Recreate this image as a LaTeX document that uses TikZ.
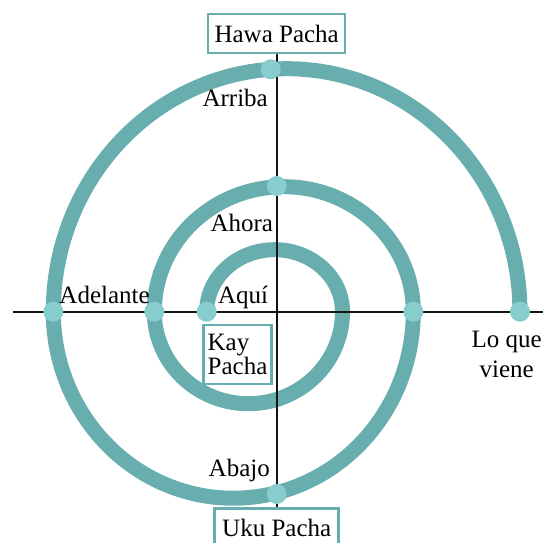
\documentclass[tikz,border=0pt]{standalone}
\usepackage{fontspec}
\setmainfont{Liberation Serif}
\usetikzlibrary{positioning}
\definecolor{spiralc}{RGB}{104,174,174}
\definecolor{dotc}{RGB}{136,205,205}
\definecolor{ink}{RGB}{20,20,20}

\begin{document}
\begin{tikzpicture}[
  x=1pt, y=1pt,
  font=\fontsize{25}{28}\selectfont,
  spiral/.style={draw=spiralc, line width=15pt},
  axis/.style={draw=ink, line width=2pt},
  dot/.style={circle, fill=dotc, minimum size=20pt, inner sep=0pt},
  pacha/.style={draw=spiralc, line width=2.5pt, fill=white, inner sep=0pt, align=left},
  lab/.style={inner sep=0pt},
]
\useasboundingbox (-276.7,-230.3) rectangle (266.3,311.7);

% ---- the spiral (half-ellipses, inside out) ----
\draw[spiral] (-70,0)
  arc[start angle=180, end angle=0, x radius=67.9pt, y radius=62pt]
  arc[start angle=0, end angle=-180, x radius=94.1pt, y radius=92pt]
  arc[start angle=180, end angle=0, x radius=129.5pt, y radius=125pt]
  arc[start angle=0, end angle=-180, x radius=180pt, y radius=186.5pt]
  arc[start angle=180, end angle=0, x radius=233.3pt, y radius=243pt];

% ---- the three pachas ----
\node[pacha, minimum width=137pt, minimum height=39pt] (hawa) at (0,278) {Hawa Pacha};
\node[pacha, minimum width=124pt, minimum height=39pt] (uku) at (0,-216.1) {Uku Pacha};
\node[pacha, minimum width=68pt, minimum height=59pt, font=\fontsize{25}{23.5}\selectfont] (kay) at (-39.2,-42.8) {Kay\\Pacha};

% ---- axes ----
\coordinate (west) at (-263.7,0);
\coordinate (east) at (270,0);
\draw[axis] (west) -- (east);
\draw[axis] (hawa.south) -- (uku.north);

% ---- dots on the axes ----
\node[dot] (aquiDot) at (-70,0) {};
\node[dot] (midLeftDot) at (-122.4,0) {};
\node[dot] (adelanteDot) at (-223.4,0) {};
\node[dot] (midRightDot) at (136.6,0) {};
\node[dot] (vieneDot) at (243.3,0) {};
\node[dot] (ahoraDot) at (0,125.7) {};
\node[dot] (arribaDot) at (-6,242.4) {};
\node[dot] (abajoDot) at (0,-182.3) {};

% ---- labels ----
\node[lab, anchor=base east] (arriba) at (-8.7,205) {Arriba};
\node[lab, anchor=base east] (ahora) at (-3.4,80.7) {Ahora};
\node[lab, anchor=base east] (aqui) at (-8.4,8.4) {Aquí};
\node[lab, anchor=base west] (adelante) at (-217.4,8.4) {Adelante};
\node[lab, anchor=base east] (abajo) at (-6.7,-165) {Abajo};
\node[lab, align=center, anchor=north, font=\fontsize{25}{29.5}\selectfont] (viene) at (230,-19.5) {Lo que\\viene};

\end{tikzpicture}
\end{document}
